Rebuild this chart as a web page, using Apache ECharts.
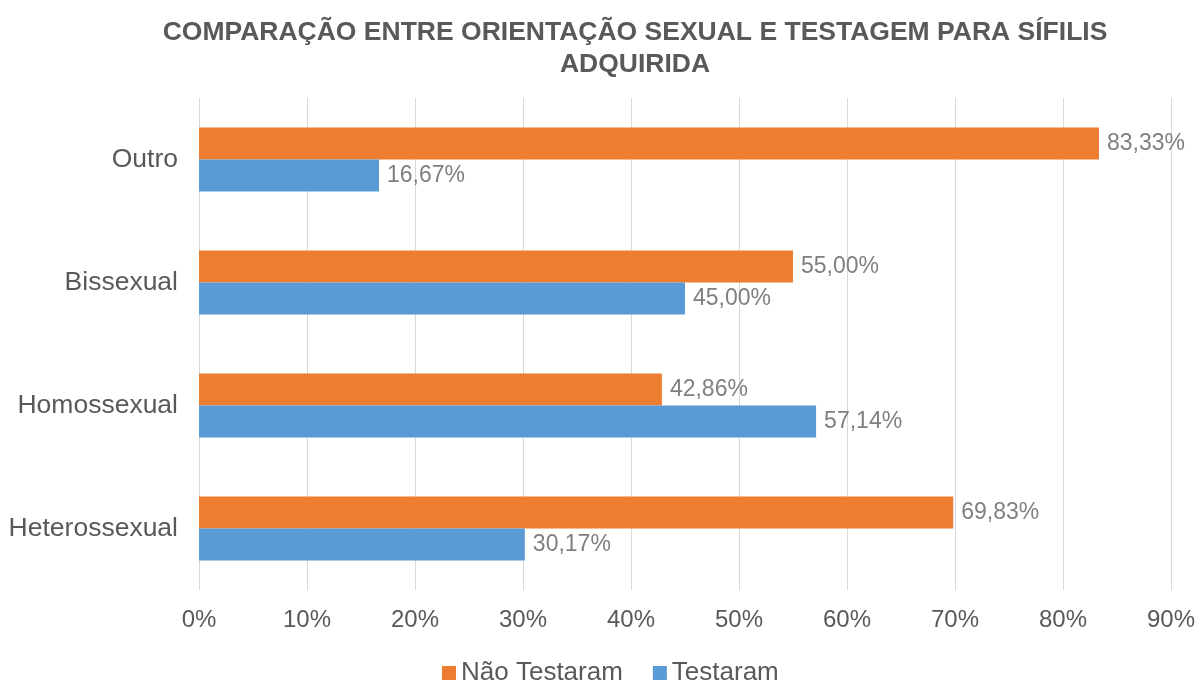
<!DOCTYPE html>
<html>
<head>
<meta charset="utf-8">
<script src="https://cdn.jsdelivr.net/npm/echarts@6/dist/echarts.min.js"></script>
<style>
    html, body { margin: 0; padding: 0; background: #fff; }
    #chart { width: 1201px; height: 684px; }
</style>
</head>
<body>
<div id="chart"></div>
<script>
    // categorias de baixo para cima
    var categorias = ['Heterossexual', 'Homossexual', 'Bissexual', 'Outro'];
    var naoTestaram = [69.83, 42.86, 55.00, 83.33];
    var testaram = [30.17, 57.14, 45.00, 16.67];
    var ticksX = [0, 10, 20, 30, 40, 50, 60, 70, 80, 90];

    var fonte = '"Liberation Sans", Arial, sans-serif';

    function pct(v) {
        return v.toFixed(2).replace('.', ',') + '%';
    }

    var labelStyle = {
        show: true,
        position: 'right',
        distance: 8,
        color: '#7f7f7f',
        fontSize: 23,
        fontFamily: fonte,
        formatter: function (p) { return pct(p.value); }
    };

    var myChart = echarts.init(document.getElementById('chart'));
    var option = {
        animation: false,
        title: {
            text: 'COMPARAÇÃO ENTRE ORIENTAÇÃO SEXUAL E TESTAGEM PARA SÍFILIS\nADQUIRIDA',
            left: 630,
            top: 12,
            textAlign: 'center',
            textStyle: {
                color: '#595959',
                fontSize: 26.5,
                fontWeight: 'bold',
                fontFamily: fonte,
                lineHeight: 32
            }
        },
        legend: {
            data: ['Não Testaram', 'Testaram'],
            left: 437,
            top: 655,
            itemWidth: 14,
            itemHeight: 14,
            itemGap: 30,
            icon: 'rect',
            textStyle: { color: '#595959', fontSize: 26, fontFamily: fonte }
        },
        grid: {
            left: 199,
            right: 30,
            top: 98,
            bottom: 94,
            containLabel: false
        },
        xAxis: {
            type: 'value',
            min: ticksX[0],
            max: ticksX[ticksX.length - 1],
            interval: 10,
            axisLine: { show: false },
            axisTick: { show: false },
            splitLine: { lineStyle: { color: '#d9d9d9', width: 1 } },
            axisLabel: {
                color: '#595959',
                fontSize: 24,
                fontFamily: fonte,
                margin: 18,
                formatter: '{value}%'
            }
        },
        yAxis: {
            type: 'category',
            data: categorias,
            axisLine: { show: false },
            axisTick: { show: false },
            axisLabel: {
                color: '#595959',
                fontSize: 26.5,
                fontFamily: fonte,
                margin: 21
            }
        },
        series: [
            {
                name: 'Não Testaram',
                type: 'bar',
                data: naoTestaram,
                itemStyle: { color: '#ed7d31' },
                barGap: '0%',
                barCategoryGap: '48%',
                label: labelStyle
            },
            {
                name: 'Testaram',
                type: 'bar',
                data: testaram,
                itemStyle: { color: '#5b9bd5' },
                barGap: '0%',
                barCategoryGap: '48%',
                label: labelStyle
            }
        ]
    };
    myChart.setOption(option);
</script>
</body>
</html>
